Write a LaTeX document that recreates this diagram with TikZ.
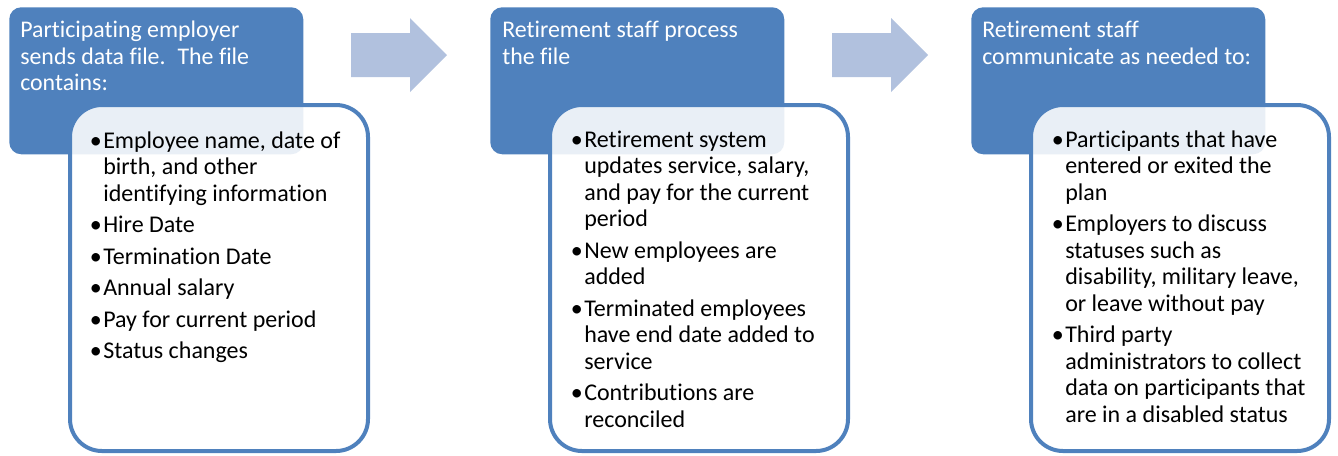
\documentclass[tikz,border=0pt]{standalone}
\usepackage{fontspec}
\setmainfont{Carlito}[Ligatures={NoCommon}]
\definecolor{accent}{HTML}{4F81BD}
\definecolor{arrowfill}{HTML}{B1C1DE}
% one line of a list: a bullet hanging left of the text
\newcommand\bulletline[1]{\hbox{\llap{•\hspace{1pt}}#1}}
% a continuation line of the same list item
\newcommand\contline[1]{\hbox{#1}}
% extra space between list items
\newcommand\itemgap{\vskip 3.75pt}
\begin{document}
\begin{tikzpicture}[x=0.75pt,y=-0.75pt,
  stage/.style={fill=accent, rounded corners=9pt, minimum width=220.5pt,
    minimum height=110.25pt, inner sep=0pt, anchor=north west},
  detail/.style={draw=accent, line width=3pt, fill=white, fill opacity=0.88,
    rounded corners=24pt, minimum width=223.5pt, minimum height=259.5pt,
    inner sep=0pt, anchor=north west},
  headtext/.style={text=white, font=\fontsize{17.9}{19.875}\selectfont,
    inner sep=0pt, anchor=base west},
  bodytext/.style={text=black, font=\fontsize{18}{19.875}\selectfont,
    inner sep=0pt, anchor=base west},
  flow/.style={fill=arrowfill}]
\useasboundingbox (0,0) rectangle (1338,455);

% ---- stage 1 ----
\node[stage] (s1) at (9,7) {};
\node[headtext] (h1) at (20,37.5) {\vtop{%
  \contline{Participating employer}
  \contline{sends data file.\hspace{0.5em}The file}
  \contline{contains:}}};
\node[detail] (d1) at (68,103) {};
\node[bodytext] (b1) at (103,148) {\vtop{%
  \bulletline{Employee name, date of}
  \contline{birth, and other}
  \contline{identifying information}\itemgap
  \bulletline{Hire Date}\itemgap
  \bulletline{Termination Date}\itemgap
  \bulletline{Annual salary}\itemgap
  \bulletline{Pay for current period}\itemgap
  \bulletline{Status changes}}};

% ---- stage 2 ----
\node[stage] (s2) at (490,7) {};
\node[headtext] (h2) at (502,37.5) {\vtop{%
  \contline{Retirement staff process}
  \contline{the file}}};
\node[detail] (d2) at (548,103) {};
\node[bodytext] (b2) at (584,147) {\vtop{%
  \bulletline{Retirement system}
  \contline{updates service, salary,}
  \contline{and pay for the current}
  \contline{period}\itemgap
  \bulletline{New employees are}
  \contline{added}\itemgap
  \bulletline{Terminated employees}
  \contline{have end date added to}
  \contline{service}\itemgap
  \bulletline{Contributions are}
  \contline{reconciled}}};

% ---- stage 3 ----
\node[stage] (s3) at (971,7) {};
\node[headtext] (h3) at (982,37.5) {\vtop{%
  \contline{Retirement staff}
  \contline{communicate as needed to:}}};
\node[detail] (d3) at (1029,103) {};
\node[bodytext] (b3) at (1065,147) {\vtop{%
  \bulletline{Participants that have}
  \contline{entered or exited the}
  \contline{plan}\itemgap
  \bulletline{Employers to discuss}
  \contline{statuses such as}
  \contline{disability, military leave,}
  \contline{or leave without pay}\itemgap
  \bulletline{Third party}
  \contline{administrators to collect}
  \contline{data on participants that}
  \contline{are in a disabled status}}};

% ---- block arrows between the stages ----
\fill[flow] (351,33) -- (410,33) -- (410,18) -- (447,55) -- (410,92)
  -- (410,77) -- (351,77) -- cycle;
\fill[flow] (832,33) -- (891,33) -- (891,18) -- (928,55) -- (891,92)
  -- (891,77) -- (832,77) -- cycle;
\end{tikzpicture}
\end{document}
